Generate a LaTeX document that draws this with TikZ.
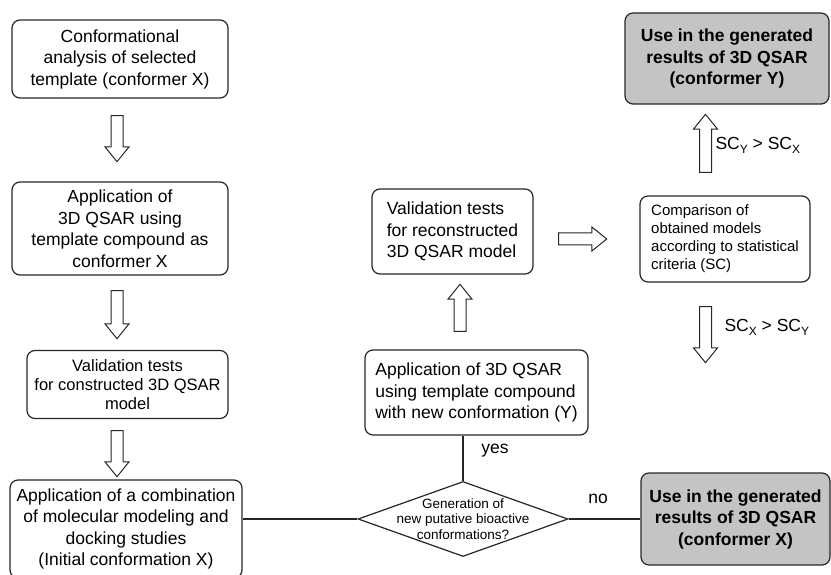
\documentclass[tikz,border=0pt]{standalone}
\usepackage{fontspec}
\setmainfont{Liberation Sans}
\usetikzlibrary{shapes.geometric,shapes.arrows}

\newcommand{\lowsub}[1]{\raisebox{-0.45ex}{\fontsize{12}{12}\selectfont #1}}

\tikzset{
  box/.style={draw=black!85, line width=1.2pt, rounded corners=8pt, inner sep=0pt, align=center, font=\fontsize{17.5}{21.5}\selectfont},
  result/.style={box, fill=black!23, font=\bfseries\fontsize{17.5}{21.5}\selectfont},
  decision/.style={diamond, draw=black!85, line width=1.2pt, inner sep=0pt, minimum width=210pt, minimum height=75pt},
  hollow/.style={single arrow, draw=black!85, line width=1pt, inner xsep=0pt, inner ysep=5.5pt, single arrow head extend=6pt, single arrow tip angle=78},
  link/.style={draw=black!85, line width=1.2pt},
  tag/.style={font=\fontsize{17.5}{21}\selectfont},
}

\begin{document}
\begin{tikzpicture}[x=1pt, y=-1pt]
\useasboundingbox (0,0) rectangle (831,575);

\node [box, minimum width=216pt, minimum height=78pt] (conf) at (120,59) {Conformational\\analysis of selected\\template (conformer X)};
\node [hollow, rotate=-90, minimum height=46pt] (a1) at (117,135) {};
\node [box, minimum width=216pt, minimum height=93pt] (appx) at (120,228.5) {Application of\\3D QSAR using\\template compound as\\conformer X};
\node [hollow, rotate=-90, minimum height=48pt] (a2) at (117,311) {};
\node [box, minimum width=201pt, minimum height=68pt, font=\fontsize{16.5}{19}\selectfont] (valx) at (127.5,384.5) {Validation tests\\for constructed 3D QSAR\\model};
\node [hollow, rotate=-90, minimum height=46pt] (a3) at (117,450) {};
\node [box, minimum width=232pt, minimum height=98pt] (combx) at (126,529) {Application of a combination\\of molecular modeling and\\docking studies\\(Initial conformation X)};

\node [decision, label={[font=\fontsize{13.5}{15.5}\selectfont, align=center]center:Generation of\\new putative bioactive\\conformations?}] (gen) at (463,519) {};
\node [box, align=left, minimum width=223pt, minimum height=85pt] (appy) at (476.5,392.5) {Application of 3D QSAR\\using template compound\\with new conformation (Y)};
\node [hollow, rotate=90, minimum height=47pt] (a4) at (460,311.5) {};
\node [box, align=left, minimum width=161pt, minimum height=85pt] (valy) at (452.5,231.5) {Validation tests\\for reconstructed\\3D QSAR model};
\node [hollow, minimum height=48pt] (a5) at (579,239) {};

\node [box, align=left, minimum width=170pt, minimum height=86pt, font=\fontsize{15}{18}\selectfont] (comp) at (725,239) {Comparison of\\obtained models\\according to statistical\\criteria (SC)};
\node [hollow, rotate=90, minimum height=58pt] (a6) at (705.5,147) {};
\node [result, minimum width=204pt, minimum height=91pt] (usey) at (727,58.5) {Use in the generated\\results of 3D QSAR\\(conformer Y)};
\node [hollow, rotate=-90, minimum height=56pt] (a7) at (705.5,331) {};
\node [result, minimum width=189pt, minimum height=92pt] (usex) at (735.5,519) {Use in the generated\\results of 3D QSAR\\(conformer X)};

\node [tag, right] (scy) at (712,145) {SC\lowsub{Y} > SC\lowsub{X}};
\node [tag, right] (scx) at (721,327) {SC\lowsub{X} > SC\lowsub{Y}};
\node [tag] (yes) at (495,451) {yes};
\node [tag] (no) at (598,499) {no};

\draw [link] (gen.north) -- (gen.north |- appy.south);
\draw [link] (gen.west) -- (gen.west -| combx.east);
\draw [link] (gen.east) -- (usex.west);

\end{tikzpicture}
\end{document}
